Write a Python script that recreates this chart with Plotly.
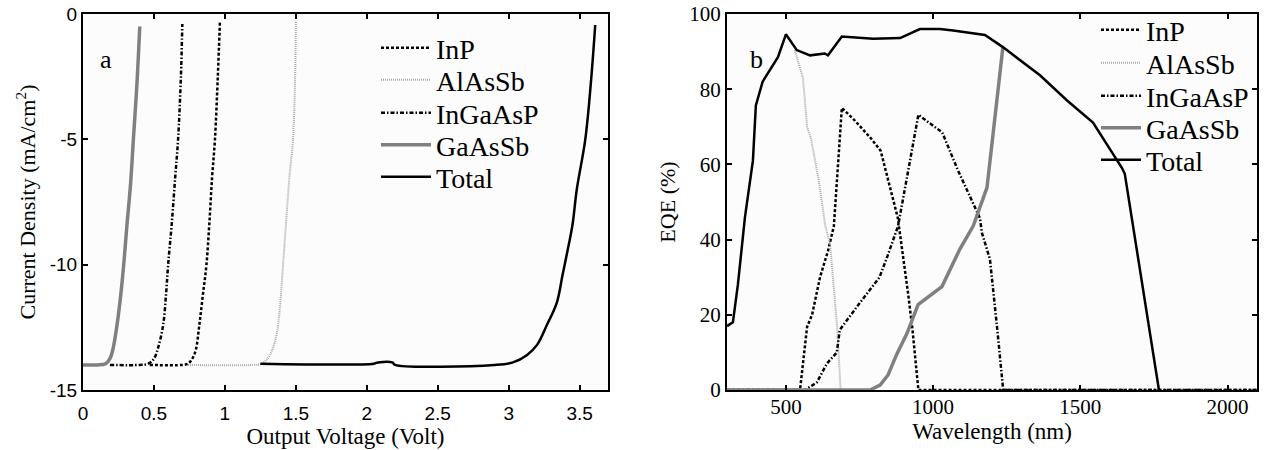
import plotly.graph_objects as go

# ---------------- Panel a : J-V curves ----------------
v_gaassb = [0, 0.1, 0.16, 0.19, 0.21, 0.24, 0.27, 0.29, 0.31, 0.335, 0.355, 0.38, 0.40]
j_gaassb = [-14.0, -14.0, -13.95, -13.75, -13.4, -12.4, -11.0, -9.8, -8.4, -6.8, -5.0, -2.8, -0.5]

v_ingaasp = [0.19, 0.4, 0.46, 0.5, 0.53, 0.565, 0.585, 0.60, 0.625, 0.65, 0.67, 0.69, 0.70]
j_ingaasp = [-14.0, -14.0, -13.95, -13.75, -13.3, -12.4, -11.2, -10.0, -8.4, -6.5, -5.0, -2.5, -0.4]

v_inp = [0.47, 0.7, 0.74, 0.77, 0.795, 0.82, 0.845, 0.87, 0.89, 0.91, 0.93, 0.95, 0.965]
j_inp = [-14.0, -14.0, -13.95, -13.75, -13.4, -12.4, -11.2, -10.0, -8.4, -6.5, -5.0, -2.5, -0.3]

v_alassb = [0.74, 1.2, 1.26, 1.3, 1.33, 1.36, 1.375, 1.395, 1.41, 1.43, 1.455, 1.48, 1.495, 1.50]
j_alassb = [-14.0, -14.0, -13.95, -13.75, -13.45, -12.9, -12.4, -11.2, -10.0, -8.4, -6.5, -5.0, -2.5, -0.3]

v_total = [1.25, 2.05, 2.08, 2.18, 2.2, 2.9, 3.03, 3.13, 3.2, 3.27, 3.34, 3.38, 3.42, 3.45, 3.48, 3.54, 3.58, 3.61]
j_total = [-13.95, -13.95, -13.9, -13.9, -14.0, -14.0, -13.9, -13.6, -13.2, -12.4, -11.5, -10.4, -9.3, -8.4, -7.0, -5.0, -2.7, -0.44]

a_yticks = [-15, -10, -5, 0]
a_yticklabels = ['-15', '-10', '-5', '0']
a_xticks = [0, 0.5, 1, 1.5, 2, 2.5, 3, 3.5]
a_xticklabels = ['0', '0.5', '1', '1.5', '2', '2.5', '3', '3.5']

# ---------------- Panel b : EQE spectra ----------------
wl_total = [300, 320, 337, 354, 361, 388, 398, 421, 473, 500, 537, 582, 632, 643, 690, 796, 888, 955,
            1023, 1068, 1176, 1237, 1363, 1455, 1543, 1641, 1651, 1767]
eqe_total = [17, 18, 28, 40, 46, 61, 75.7, 82, 88.5, 94.6, 90.4, 89, 89.5, 89, 94, 93.4, 93.6, 96,
             96, 95.6, 94.4, 91.2, 83.7, 77, 71.1, 59.1, 57.5, 0]

wl_alassb = [530, 558, 572, 585, 612, 633, 650, 674, 686]
eqe_alassb = [90.5, 83, 70, 67, 55.6, 44, 38.8, 16.8, 0]

wl_inp = [300, 548, 572, 589, 616, 643, 663, 690, 730, 788, 822, 880, 915, 930, 950, 2100]
eqe_inp = [0, 0, 16.8, 20, 30, 37, 43.6, 75, 72, 67, 63.6, 45.8, 25.7, 16, 0, 0]

wl_ingaasp = [300, 565, 605, 639, 673, 683, 740, 818, 845, 881, 950, 1031, 1085, 1159, 1166, 1193, 1217, 1238, 2100]
eqe_ingaasp = [0, 0, 2, 7, 10, 16, 22, 30, 35.6, 43.6, 73.2, 68.5, 58.3, 45.7, 41.7, 34.8, 16.8, 0, 0]

wl_gaassb = [300, 786, 820, 847, 877, 911, 949, 1030, 1091, 1136, 1183, 1237]
eqe_gaassb = [0, 0, 1.3, 4, 9.6, 15, 22.7, 27.5, 37.5, 43.6, 53.8, 91.2]

names = ['InP', 'AlAsSb', 'InGaAsP', 'GaAsSb', 'Total']
styles = {
    'InP': dict(color='black', width=2.5, dash='3px,2px'),
    'AlAsSb': dict(color='#a9a9a9', width=2, dash='1px,1px'),
    'InGaAsP': dict(color='black', width=2.5, dash='4px,2px,1.5px,2px'),
    'GaAsSb': dict(color='#808080', width=3.5),
    'Total': dict(color='black', width=2.5),
}

a_data = {'InP': (v_inp, j_inp), 'AlAsSb': (v_alassb, j_alassb), 'InGaAsP': (v_ingaasp, j_ingaasp),
          'GaAsSb': (v_gaassb, j_gaassb), 'Total': (v_total, j_total)}
b_data = {'InP': (wl_inp, eqe_inp), 'AlAsSb': (wl_alassb, eqe_alassb), 'InGaAsP': (wl_ingaasp, eqe_ingaasp),
          'GaAsSb': (wl_gaassb, eqe_gaassb), 'Total': (wl_total, eqe_total)}

W, H = 1265, 450
ML, MR, MT, MB = 83, 8, 14, 60
PW, PH = W - ML - MR, H - MT - MB

def px_x(p):
    return (p - ML) / PW

def px_y(p):
    return 1 - (p - MT) / PH

fig = go.Figure()

legend_layouts = {}
k = 1
a_rows = [48, 80, 113, 145, 177]
b_rows = [30, 63, 96, 128, 160]
for panel, data, rows, xstart, iw, xa, ya in [('a', a_data, a_rows, 437, 50, 'x', 'y'),
                                              ('b', b_data, b_rows, 1147, 40, 'x2', 'y2')]:
    for name, row in zip(names, rows):
        lname = 'legend' if k == 1 else f'legend{k}'
        xs, ys = data[name]
        fig.add_trace(go.Scatter(
            x=xs, y=ys, mode='lines', name=name, line=styles[name],
            line_shape='spline' if panel == 'a' else 'linear',
            xaxis=xa, yaxis=ya, legend=lname, showlegend=True, hoverinfo='skip'))
        legend_layouts[lname] = dict(
            x=px_x(xstart - iw - 11), y=px_y(row), xanchor='left', yanchor='middle',
            bgcolor='rgba(0,0,0,0)', borderwidth=0, itemwidth=iw,
            font=dict(family='Liberation Serif', size=28, color='black'))
        k += 1

axis_common = dict(showgrid=False, zeroline=False, showline=True, linecolor='black', linewidth=2,
                   mirror='ticks', ticks='inside', ticklen=5, tickwidth=2, tickcolor='black',
                   automargin=False)
xtitle_font = dict(family='Liberation Serif', size=23, color='black')
ytitle_font = dict(family='Liberation Serif', size=22, color='black')

fig.update_layout(
    width=W, height=H,
    margin=dict(l=ML, r=MR, t=MT, b=MB, autoexpand=False),
    paper_bgcolor='white', plot_bgcolor='#fcfcfc',
    xaxis=dict(domain=[0, px_x(608)], range=[0, 3.7], tickvals=a_xticks, ticktext=a_xticklabels,
               tickfont=dict(family='Liberation Sans', size=19, color='black'), ticklabelstandoff=5,
               title=dict(text='Output Voltage (Volt)', font=xtitle_font, standoff=0), **axis_common),
    yaxis=dict(domain=[0, 1], range=[-15, 0], tickvals=a_yticks, ticktext=a_yticklabels,
               tickfont=dict(family='Liberation Sans', size=19, color='black'),
               title=dict(text='Current Density (mA/cm<sup>2</sup>)', font=ytitle_font, standoff=8), **axis_common),
    xaxis2=dict(domain=[px_x(727), 1], range=[300, 2100], anchor='y2', dtick=500, tick0=0,
                tickfont=dict(family='Liberation Serif', size=21, color='black'), ticklabelstandoff=-3,
                title=dict(text='Wavelength (nm)', font=xtitle_font, standoff=0), **axis_common),
    yaxis2=dict(domain=[0, 1], range=[0, 100], anchor='x2', dtick=20,
                tickfont=dict(family='Liberation Serif', size=21, color='black'),
                title=dict(text='EQE (%)', font=ytitle_font, standoff=8), **axis_common),
    annotations=[
        dict(text='a', x=0.044, y=0.88, xref='x domain', yref='y domain', showarrow=False,
             xanchor='center', yanchor='middle',
             font=dict(family='Liberation Serif', size=26, color='black')),
        dict(text='b', x=0.055, y=0.88, xref='x2 domain', yref='y2 domain', showarrow=False,
             xanchor='center', yanchor='middle',
             font=dict(family='Liberation Serif', size=26, color='black')),
    ],
    hovermode=False,
    **legend_layouts,
)

fig.write_html('out.html', config={'displayModeBar': False},
               post_script="document.body.style.margin='0px';")
